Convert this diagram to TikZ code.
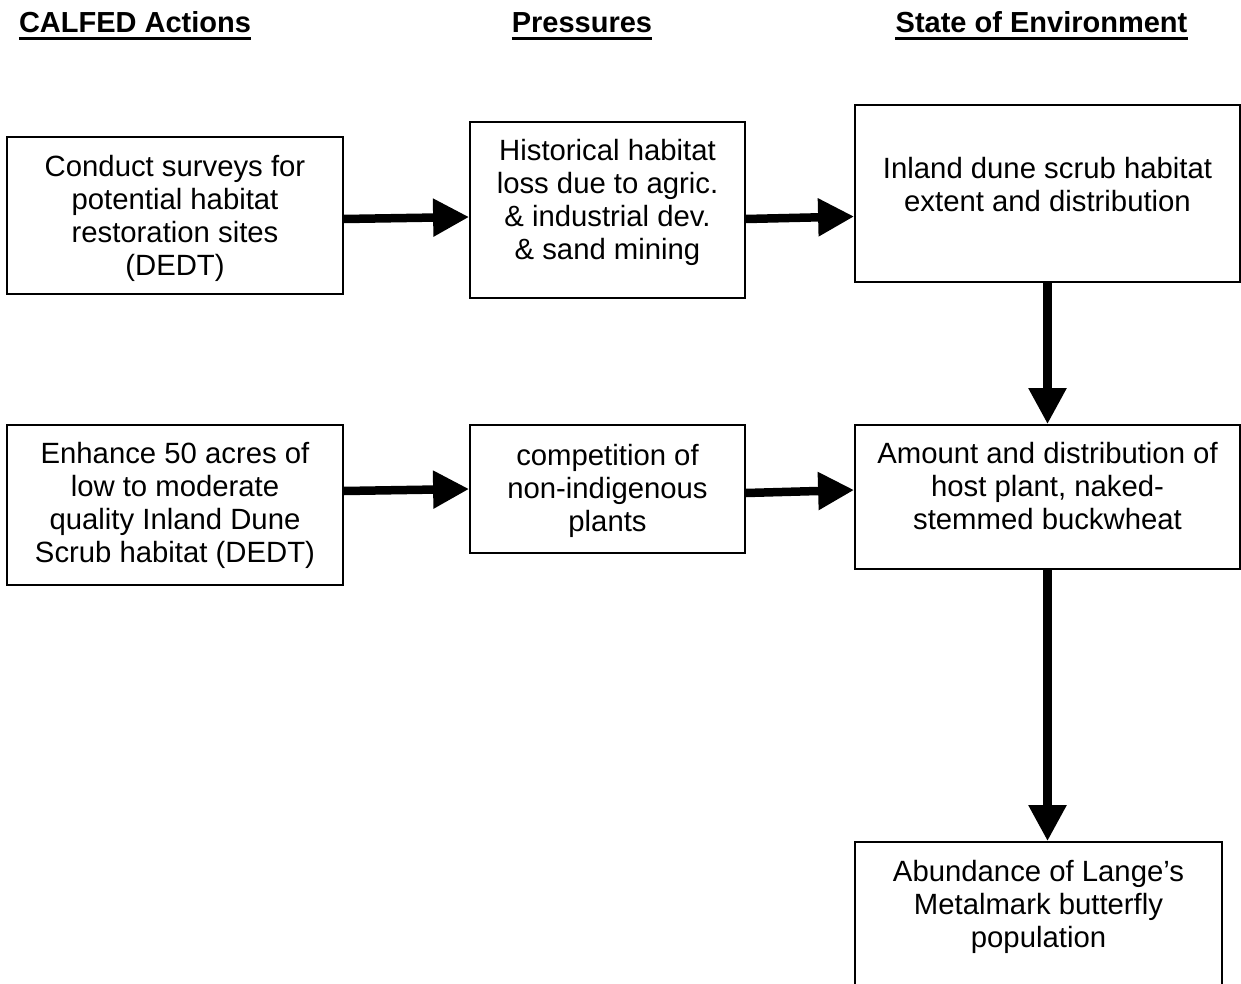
\documentclass[tikz,border=0pt]{standalone}
\usepackage{fontspec}
\setmainfont{Liberation Sans}
\usetikzlibrary{arrows.meta}
\begin{document}
\begin{tikzpicture}[x=1pt,y=-1pt,
  box/.style={draw, line width=1.8pt, inner sep=0pt, rectangle},
  txt/.style={align=center, inner sep=0pt, font=\fontsize{29.3pt}{33pt}\selectfont},
  head/.style={inner sep=0pt, anchor=base, font=\fontsize{29pt}{33pt}\selectfont\bfseries},
  flow/.style={line width=8.5pt, -{Triangle[length=36pt,width=36pt]}}
]
\useasboundingbox (0,0) rectangle (1241,984);
\clip (0,0) rectangle (1241,984);

% column headings
\node[head] (h1) at (135,33) {CALFED Actions};
\node[head] (h2) at (582,33) {Pressures};
\node[head] (h3) at (1041.5,33) {State of Environment};
\foreach \h in {h1,h2,h3}
  \draw[line width=3.5pt] ([yshift=-5.5pt]\h.base west) -- ([yshift=-5.5pt]\h.base east);

% boxes
\node[box, minimum width=336pt, minimum height=157pt] (A1) at (175,215.5) {};
\node[box, minimum width=275pt, minimum height=176pt] (P1) at (607.5,210) {};
\node[box, minimum width=385pt, minimum height=177pt] (S1) at (1047.5,193.5) {};
\node[box, minimum width=336pt, minimum height=160pt] (A2) at (175,505) {};
\node[box, minimum width=275pt, minimum height=128pt] (P2) at (607.5,489) {};
\node[box, minimum width=385pt, minimum height=144pt] (S2) at (1047.5,497) {};
\node[box, minimum width=367pt, minimum height=158pt] (S3) at (1038.5,921) {};

% box texts
\node[txt] (tA1) at (175,218) {Conduct surveys for\\potential habitat\\restoration sites\\(DEDT)};
\node[txt] (tP1) at (607.5,202) {Historical habitat\\loss due to agric.\\\& industrial dev.\\\& sand mining};
\node[txt] (tS1) at (1047.5,184.5) {Inland dune scrub habitat\\extent and distribution};
\node[txt] (tA2) at (175,505) {Enhance 50 acres of\\low to moderate\\quality Inland Dune\\Scrub habitat (DEDT)};
\node[txt] (tP2) at (607.5,491) {competition of\\non-indigenous\\plants};
\node[txt] (tS2) at (1047.5,486) {Amount and distribution of\\host plant, naked-\\stemmed buckwheat};
\node[txt] (tS3) at (1038.5,907) {Abundance of Lange’s\\Metalmark butterfly\\population};

% connectors
\draw[flow] ([yshift=-3.5pt]A1.east) -- ([yshift=-7pt]P1.west);
\draw[flow] ([yshift=-9pt]P1.east) -- ([yshift=-23pt]S1.west);
\draw[flow] ([yshift=14pt]A2.east) -- (P2.west);
\draw[flow] ([yshift=-4pt]P2.east) -- ([yshift=7pt]S2.west);
\draw[flow] (S1.south) -- (S2.north);
\draw[flow] (S2.south) -- (S2.south |- S3.north);
\end{tikzpicture}
\end{document}
